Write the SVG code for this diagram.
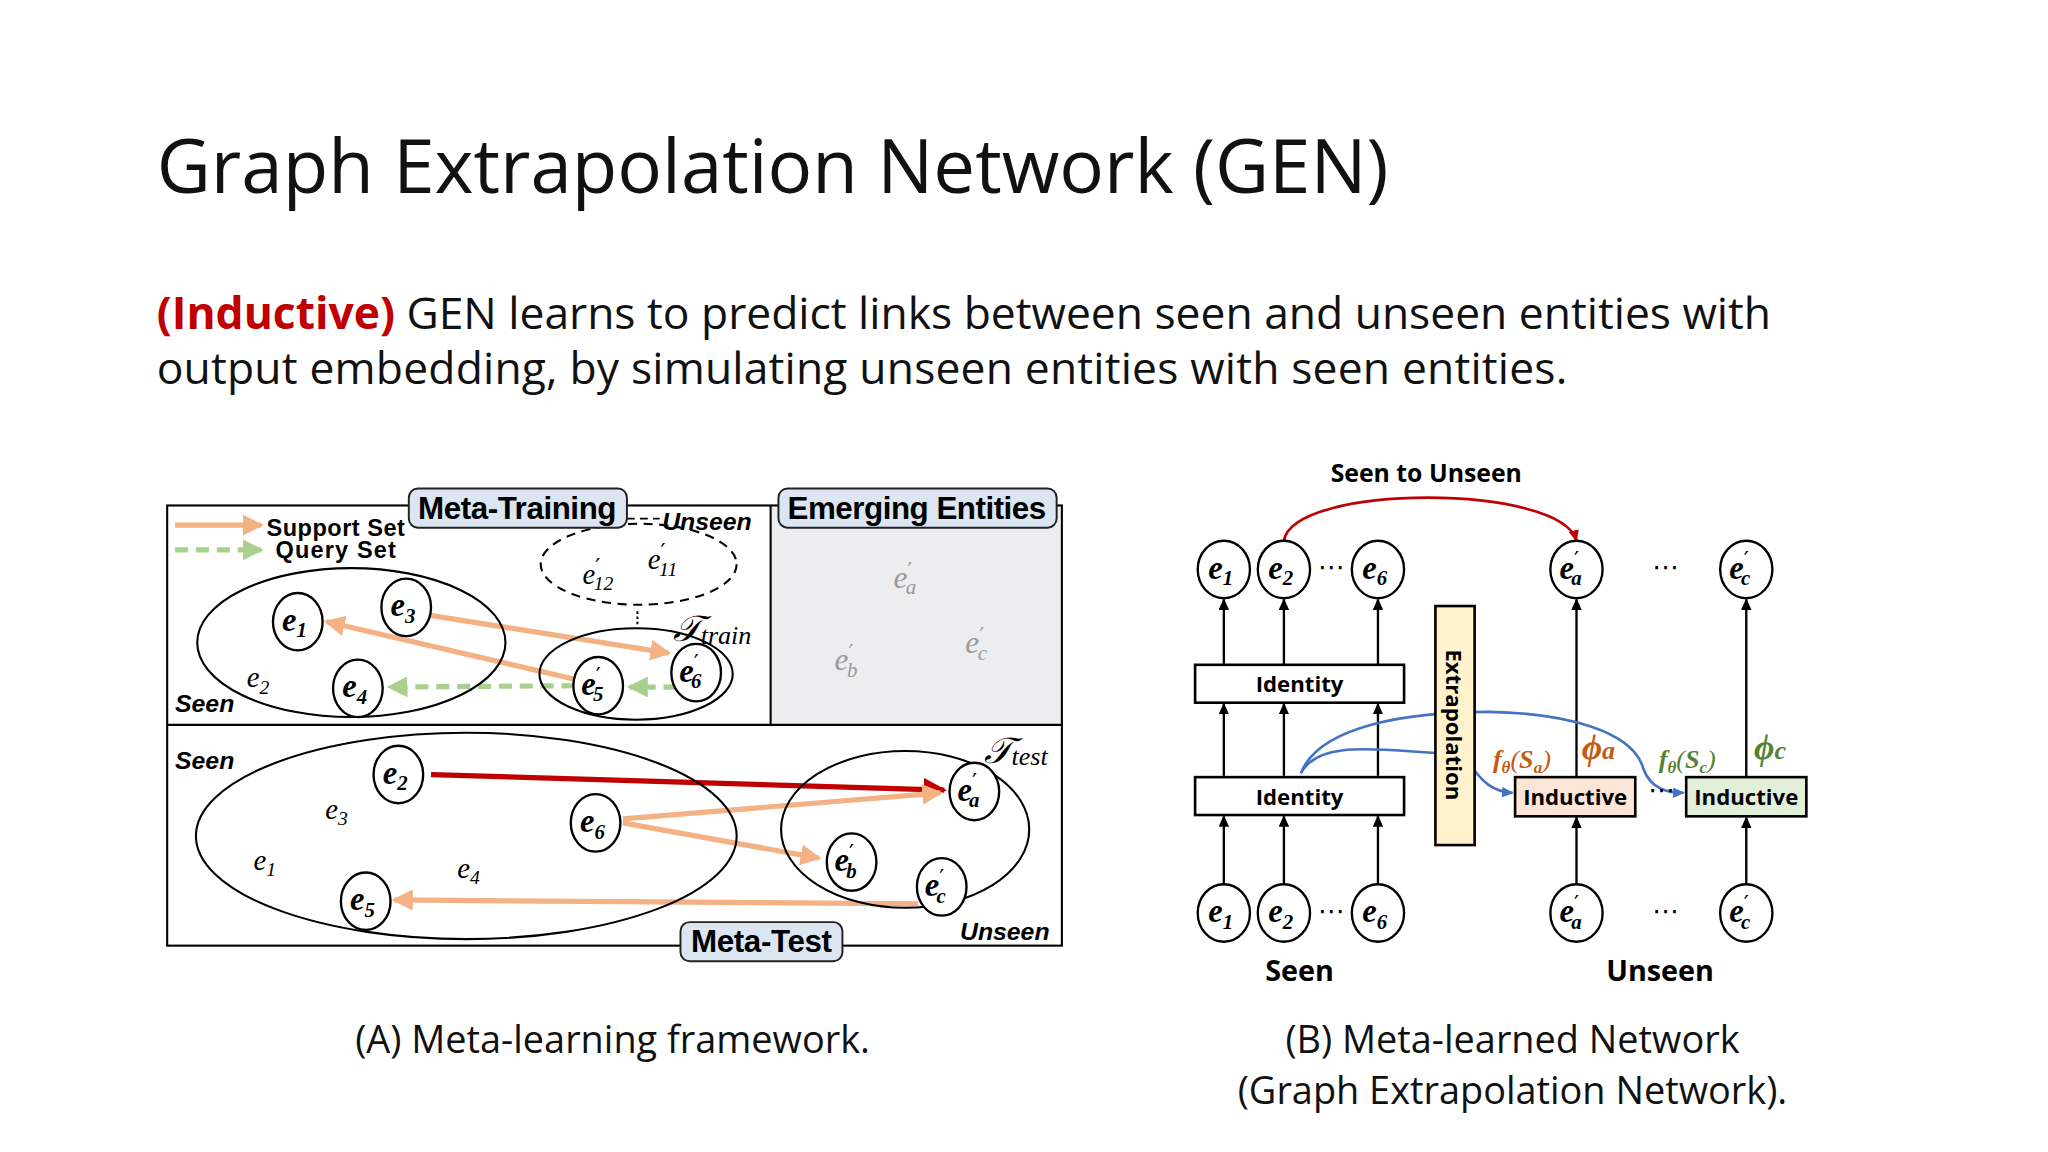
<svg xmlns="http://www.w3.org/2000/svg" width="2048" height="1152" viewBox="0 0 2048 1152">
<style>
.sans{font-family:"Open Sans","Noto Sans",sans-serif}
.lbl{font-family:"Liberation Sans",Arial,sans-serif;font-weight:bold}
.m{font-family:"Liberation Serif","DejaVu Serif",serif;font-style:italic}
.mb{font-family:"Liberation Serif","DejaVu Serif",serif;font-style:italic;font-weight:bold;font-size:25px}
.p{font-family:"DejaVu Sans",sans-serif;font-style:normal;font-weight:normal;font-size:17px}
.dots{font-family:"DejaVu Sans",sans-serif;font-size:20px}
.ln{fill:none;stroke:#000;stroke-width:1.6}
.nd{fill:#fff;stroke:#000;stroke-width:1.8}
.tag{fill:#dce6f2;stroke:#222;stroke-width:1.5}
.or{fill:none;stroke:#f4b183;stroke-width:4;marker-end:url(#ao)}
.ar{fill:none;stroke:#000;stroke-width:1.8;marker-end:url(#ak)}
.box{fill:#fff;stroke:#000;stroke-width:2}
</style>
<defs>
<marker id="ao" markerUnits="userSpaceOnUse" markerWidth="18" markerHeight="18" refX="14" refY="8" orient="auto"><path d="M0,0 L16,8 L0,16 Z" fill="#f4b183"/></marker>
<marker id="ag" markerUnits="userSpaceOnUse" markerWidth="18" markerHeight="18" refX="14" refY="8" orient="auto"><path d="M0,0 L16,8 L0,16 Z" fill="#a9d18e"/></marker>
<marker id="ar" markerUnits="userSpaceOnUse" markerWidth="20" markerHeight="20" refX="16" refY="9" orient="auto"><path d="M0,0 L18,9 L0,18 Z" fill="#c00000"/></marker>
<marker id="ak" markerUnits="userSpaceOnUse" markerWidth="10" markerHeight="10" refX="8" refY="4" orient="auto"><path d="M0,0 L9,4 L0,8 Z" fill="#000"/></marker>
<marker id="ab" markerUnits="userSpaceOnUse" markerWidth="10" markerHeight="10" refX="8" refY="4" orient="auto"><path d="M0,0 L9,4 L0,8 Z" fill="#4472c4"/></marker>
<marker id="arr" markerUnits="userSpaceOnUse" markerWidth="10" markerHeight="10" refX="8" refY="4" orient="auto"><path d="M0,0 L9,4 L0,8 Z" fill="#c00000"/></marker>
</defs>
<rect width="2048" height="1152" fill="#fff"/>
<g transform="scale(1.30612)">
<g id="title">
<text class="sans" x="120" y="148" font-size="57" textLength="943" fill="#111">Graph Extrapolation Network (GEN)</text>
<text class="sans" x="120" y="252" font-size="34" textLength="1236" fill="#111"><tspan fill="#c00000" font-weight="bold">(Inductive)</tspan> GEN learns to predict links between seen and unseen entities with</text>
<text class="sans" x="120" y="294" font-size="34" textLength="1080" fill="#111">output embedding, by simulating unseen entities with seen entities.</text>
</g>

<g id="panelA">
<rect x="590" y="387" width="223" height="168" fill="#ededf0"/>
<rect x="128" y="387" width="685" height="337" class="ln"/>
<line x1="128" y1="555" x2="813" y2="555" class="ln"/>
<line x1="590" y1="387" x2="590" y2="555" class="ln"/>
</g>
<g id="legend">
<line x1="134" y1="402" x2="200" y2="402" class="or"/>
<line x1="134" y1="421" x2="200" y2="421" stroke="#a9d18e" stroke-width="4" stroke-dasharray="10,6" marker-end="url(#ag)"/>
<text class="lbl" x="204" y="410" font-size="18" textLength="106">Support Set</text>
<text class="lbl" x="211" y="427" font-size="18" textLength="92">Query Set</text>
</g>
<g id="connectorsA">
<line x1="322" y1="470" x2="512" y2="500" class="or"/>
<line x1="440" y1="520" x2="250" y2="476" class="or"/>
<line x1="518" y1="526" x2="482" y2="526" stroke="#a9d18e" stroke-width="4" stroke-dasharray="10,6" marker-end="url(#ag)"/>
<line x1="440" y1="525" x2="298" y2="526" stroke="#a9d18e" stroke-width="4" stroke-dasharray="10,6" marker-end="url(#ag)"/>
<line x1="330" y1="593" x2="723" y2="605" stroke="#c00000" stroke-width="4" marker-end="url(#ar)"/>
<line x1="477" y1="627" x2="720" y2="607" class="or"/>
<line x1="477" y1="630" x2="627" y2="657" class="or"/>
<line x1="703" y1="692" x2="302" y2="689" class="or"/>
<path d="M480,397 L505,397" stroke="#000" stroke-width="1.3" stroke-dasharray="6,4"/>
<line x1="488" y1="468" x2="488" y2="480" stroke="#000" stroke-width="1.5" stroke-dasharray="2,2"/>
</g>
<g id="metaTraining">
<ellipse cx="269" cy="492" rx="118" ry="57" class="ln"/>
<ellipse cx="489" cy="432" rx="75" ry="31" class="ln" stroke-dasharray="7,5"/>
<ellipse cx="487" cy="516" rx="74" ry="35" class="ln"/>
<text class="lbl" x="134" y="545" font-size="19" font-style="italic">Seen</text>
<text class="lbl" x="507" y="406" font-size="19" font-style="italic">Unseen</text>
<text class="m" x="515" y="491" font-size="28">𝒯<tspan font-size="20" dy="2">train</tspan></text>
<text class="m" x="189" y="526" font-size="22">e<tspan font-size="15" dy="5">2</tspan></text>
<text class="m" x="446" y="447" font-size="22">e<tspan class="p" dy="-7">′</tspan><tspan font-size="15" dx="-5" dy="12">12</tspan></text>
<text class="m" x="496" y="436" font-size="22">e<tspan class="p" dy="-7">′</tspan><tspan font-size="15" dx="-5" dy="12">11</tspan></text>
</g>
<g id="e1A"><ellipse cx="228" cy="476" rx="19" ry="22" class="nd"/><text class="mb" x="216" y="483">e<tspan font-size="16" dy="5">1</tspan></text></g>
<g id="e3A"><ellipse cx="311" cy="465" rx="19" ry="22" class="nd"/><text class="mb" x="299" y="472">e<tspan font-size="16" dy="5">3</tspan></text></g>
<g id="e4A"><ellipse cx="274" cy="527" rx="19" ry="22" class="nd"/><text class="mb" x="262" y="534">e<tspan font-size="16" dy="5">4</tspan></text></g>
<g id="e5pA"><ellipse cx="458" cy="525" rx="19" ry="22" class="nd" fill-opacity="0.8"/><text class="mb" x="445" y="532">e<tspan class="p" dy="-8">′</tspan><tspan font-size="16" dx="-6" dy="13">5</tspan></text></g>
<g id="e6pA"><ellipse cx="533" cy="515" rx="19" ry="22" class="nd"/><text class="mb" x="520" y="522">e<tspan class="p" dy="-8">′</tspan><tspan font-size="16" dx="-6" dy="13">6</tspan></text></g>

<g id="emerging" fill="#999">
<text class="m" x="684" y="450" font-size="24">e<tspan class="p" dy="-7">′</tspan><tspan font-size="16" dx="-5" dy="12">a</tspan></text>
<text class="m" x="639" y="513" font-size="24">e<tspan class="p" dy="-7">′</tspan><tspan font-size="16" dx="-5" dy="12">b</tspan></text>
<text class="m" x="739" y="500" font-size="24">e<tspan class="p" dy="-7">′</tspan><tspan font-size="16" dx="-5" dy="12">c</tspan></text>
</g>

<g id="metaTest">
<ellipse cx="357" cy="640" rx="207" ry="79" class="ln"/>
<ellipse cx="693" cy="635" rx="95" ry="60" class="ln"/>
<text class="lbl" x="134" y="589" font-size="19" font-style="italic">Seen</text>
<text class="lbl" x="735" y="720" font-size="19" font-style="italic">Unseen</text>
<text class="m" x="753" y="584" font-size="28">𝒯<tspan font-size="20" dy="2">test</tspan></text>
<text class="m" x="249" y="627" font-size="22">e<tspan font-size="15" dy="5">3</tspan></text>
<text class="m" x="194" y="666" font-size="22">e<tspan font-size="15" dy="5">1</tspan></text>
<text class="m" x="350" y="672" font-size="22">e<tspan font-size="15" dy="5">4</tspan></text>
</g>
<g id="e2B"><ellipse cx="305" cy="593" rx="19" ry="22" class="nd"/><text class="mb" x="293" y="600">e<tspan font-size="16" dy="5">2</tspan></text></g>
<g id="e6B"><ellipse cx="456" cy="630" rx="19" ry="22" class="nd"/><text class="mb" x="444" y="637">e<tspan font-size="16" dy="5">6</tspan></text></g>
<g id="e5B"><ellipse cx="280" cy="690" rx="19" ry="22" class="nd"/><text class="mb" x="268" y="697">e<tspan font-size="16" dy="5">5</tspan></text></g>
<g id="eaB"><ellipse cx="746" cy="606" rx="19" ry="22" class="nd"/><text class="mb" x="733" y="613">e<tspan class="p" dy="-8">′</tspan><tspan font-size="16" dx="-6" dy="13">a</tspan></text></g>
<g id="ebB"><ellipse cx="652" cy="660" rx="19" ry="22" class="nd"/><text class="mb" x="639" y="667">e<tspan class="p" dy="-8">′</tspan><tspan font-size="16" dx="-6" dy="13">b</tspan></text></g>
<g id="ecB"><ellipse cx="721" cy="679" rx="19" ry="22" class="nd"/><text class="mb" x="708" y="686">e<tspan class="p" dy="-8">′</tspan><tspan font-size="16" dx="-6" dy="13">c</tspan></text></g>

<g id="tags">
<rect x="313" y="374" width="167" height="30" rx="7" class="tag"/>
<text class="lbl" x="396" y="397" font-size="24" text-anchor="middle" textLength="152">Meta-Training</text>
<rect x="596" y="374" width="213" height="30" rx="7" class="tag"/>
<text class="lbl" x="702" y="397" font-size="24" text-anchor="middle" textLength="198">Emerging Entities</text>
<rect x="521" y="706" width="124" height="30" rx="7" class="tag"/>
<text class="lbl" x="583" y="729" font-size="24" text-anchor="middle" textLength="108">Meta-Test</text>
</g>
<text class="sans" x="469" y="806" font-size="29" text-anchor="middle" fill="#111">(A) Meta-learning framework.</text>

<g id="connectorsB">
<path d="M983,414 C990,370 1195,370 1207,414" fill="none" stroke="#c00000" stroke-width="2" marker-end="url(#arr)"/>
<g class="ar">
<line x1="937" y1="677" x2="937" y2="625"/><line x1="983" y1="677" x2="983" y2="625"/><line x1="1055" y1="677" x2="1055" y2="625"/>
<line x1="937" y1="594" x2="937" y2="539"/><line x1="983" y1="594" x2="983" y2="539"/><line x1="1055" y1="594" x2="1055" y2="539"/>
<line x1="937" y1="509" x2="937" y2="459"/><line x1="983" y1="509" x2="983" y2="459"/><line x1="1055" y1="509" x2="1055" y2="459"/>
<line x1="1207" y1="677" x2="1207" y2="626"/><line x1="1207" y1="595" x2="1207" y2="459"/>
<line x1="1337" y1="677" x2="1337" y2="626"/><line x1="1337" y1="595" x2="1337" y2="459"/>
</g>
<path d="M996,592 C1010,565 1060,575 1110,577 C1130,578 1128,605 1158,607" fill="none" stroke="#4472c4" stroke-width="2" marker-end="url(#ab)"/>
<path d="M996,592 C1010,555 1080,545 1140,545 C1200,546 1250,560 1258,588 C1264,605 1278,607 1289,607" fill="none" stroke="#4472c4" stroke-width="2" marker-end="url(#ab)"/>
</g>
<text class="sans" x="1092" y="369" font-size="19" font-weight="bold" text-anchor="middle">Seen to Unseen</text>

<g id="identity1"><rect x="915" y="509" width="160" height="29" class="box"/><text class="sans" x="995" y="530" font-size="17" font-weight="bold" text-anchor="middle">Identity</text></g>
<g id="identity2"><rect x="915" y="595" width="160" height="29" class="box"/><text class="sans" x="995" y="616" font-size="17" font-weight="bold" text-anchor="middle">Identity</text></g>
<g id="extrapolation"><rect x="1099" y="464" width="30" height="183" fill="#fff2cc" stroke="#000" stroke-width="2"/><text class="sans" font-size="17" font-weight="bold" text-anchor="middle" transform="translate(1107,555) rotate(90)">Extrapolation</text></g>
<g id="inductiveA"><rect x="1160" y="595" width="92" height="30" fill="#fbe5d6" stroke="#000" stroke-width="2"/><text class="sans" x="1206" y="616" font-size="17" font-weight="bold" text-anchor="middle">Inductive</text></g>
<g id="inductiveC"><rect x="1291" y="595" width="92" height="30" fill="#e2f0d9" stroke="#000" stroke-width="2"/><text class="sans" x="1337" y="616" font-size="17" font-weight="bold" text-anchor="middle">Inductive</text></g>
<text class="dots" x="1272" y="612" text-anchor="middle">⋯</text>

<g id="fa" fill="#c55a11"><text class="m" x="1143" y="588" font-size="20" font-weight="bold">f<tspan font-size="13" dy="4">θ</tspan><tspan dy="-4" font-weight="normal">(</tspan>S<tspan font-size="13" dy="4">a</tspan><tspan dy="-4" font-weight="normal">)</tspan></text>
<text class="m" x="1211" y="581" font-size="27" font-weight="bold">ϕ<tspan font-size="20">a</tspan></text></g>
<g id="fc" fill="#548235"><text class="m" x="1270" y="588" font-size="20" font-weight="bold">f<tspan font-size="13" dy="4">θ</tspan><tspan dy="-4" font-weight="normal">(</tspan>S<tspan font-size="13" dy="4">c</tspan><tspan dy="-4" font-weight="normal">)</tspan></text>
<text class="m" x="1343" y="581" font-size="27" font-weight="bold">ϕ<tspan font-size="20">c</tspan></text></g>

<g id="t1"><ellipse cx="937" cy="436" rx="20" ry="22" class="nd"/><text class="mb" x="925" y="443">e<tspan font-size="16" dy="5">1</tspan></text></g>
<g id="t2"><ellipse cx="983" cy="436" rx="20" ry="22" class="nd"/><text class="mb" x="971" y="443">e<tspan font-size="16" dy="5">2</tspan></text></g>
<g id="t6"><ellipse cx="1055" cy="436" rx="20" ry="22" class="nd"/><text class="mb" x="1043" y="443">e<tspan font-size="16" dy="5">6</tspan></text></g>
<text class="dots" x="1019" y="441" text-anchor="middle">⋯</text>
<g id="ta"><ellipse cx="1207" cy="436" rx="20" ry="22" class="nd" fill="#f8cbad"/><text class="mb" x="1194" y="443">e<tspan class="p" dy="-8">′</tspan><tspan font-size="16" dx="-6" dy="13">a</tspan></text></g>
<text class="dots" x="1275" y="441" text-anchor="middle">⋯</text>
<g id="tc"><ellipse cx="1337" cy="436" rx="20" ry="22" class="nd" fill="#c5e0b4"/><text class="mb" x="1324" y="443">e<tspan class="p" dy="-8">′</tspan><tspan font-size="16" dx="-6" dy="13">c</tspan></text></g>

<g id="b1"><ellipse cx="937" cy="699" rx="20" ry="22" class="nd"/><text class="mb" x="925" y="706">e<tspan font-size="16" dy="5">1</tspan></text></g>
<g id="b2"><ellipse cx="983" cy="699" rx="20" ry="22" class="nd"/><text class="mb" x="971" y="706">e<tspan font-size="16" dy="5">2</tspan></text></g>
<g id="b6"><ellipse cx="1055" cy="699" rx="20" ry="22" class="nd"/><text class="mb" x="1043" y="706">e<tspan font-size="16" dy="5">6</tspan></text></g>
<text class="dots" x="1019" y="704" text-anchor="middle">⋯</text>
<g id="ba"><ellipse cx="1207" cy="699" rx="20" ry="22" class="nd" fill="#ededed"/><text class="mb" x="1194" y="706">e<tspan class="p" dy="-8">′</tspan><tspan font-size="16" dx="-6" dy="13">a</tspan></text></g>
<text class="dots" x="1275" y="704" text-anchor="middle">⋯</text>
<g id="bc"><ellipse cx="1337" cy="699" rx="20" ry="22" class="nd" fill="#ededed"/><text class="mb" x="1324" y="706">e<tspan class="p" dy="-8">′</tspan><tspan font-size="16" dx="-6" dy="13">c</tspan></text></g>

<text class="sans" x="995" y="751" font-size="22" font-weight="bold" text-anchor="middle">Seen</text>
<text class="sans" x="1271" y="751" font-size="22" font-weight="bold" text-anchor="middle">Unseen</text>
<text class="sans" x="1158" y="806" font-size="29" text-anchor="middle" fill="#111">(B) Meta-learned Network</text>
<text class="sans" x="1158" y="845" font-size="29" text-anchor="middle" fill="#111">(Graph Extrapolation Network).</text>
</g>
</svg>
